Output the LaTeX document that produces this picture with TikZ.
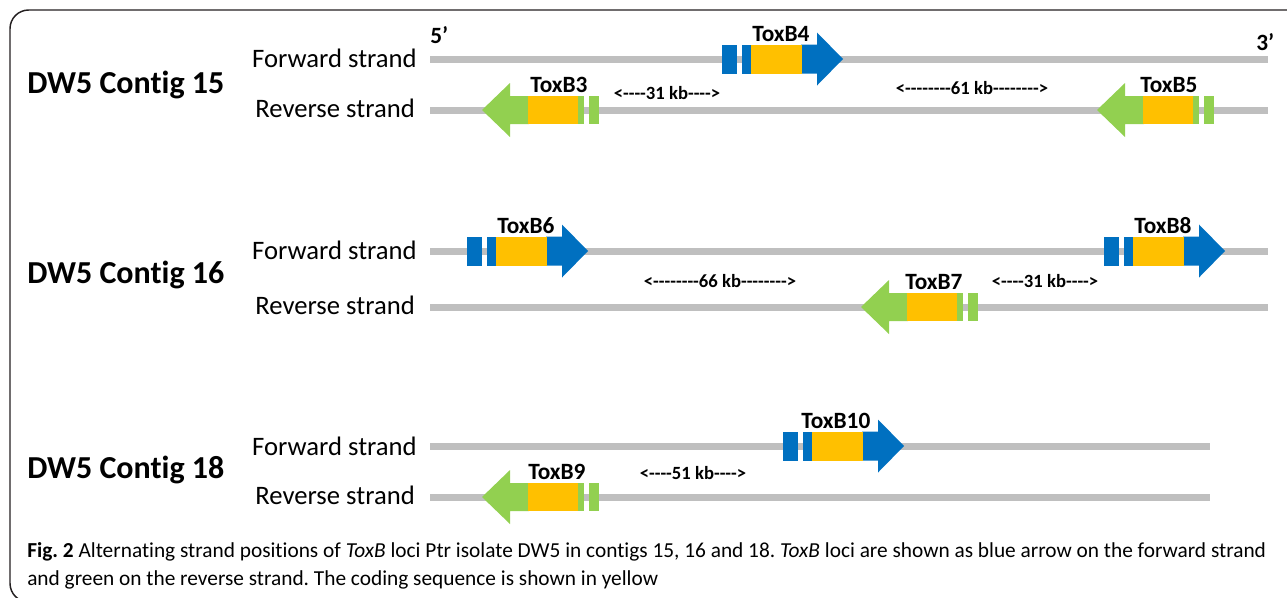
\documentclass[tikz,border=0pt]{standalone}
\usepackage{fontspec}
\setmainfont[Ligatures=NoCommon]{Carlito}
\newfontfamily\capfont[Ligatures=NoCommon]{Carlito}
\definecolor{geneblue}{HTML}{0070C0}
\definecolor{geneyellow}{HTML}{FFC000}
\definecolor{genegreen}{HTML}{92D050}
\definecolor{strandgray}{HTML}{BFBFBF}
\definecolor{framec}{HTML}{231F20}
\newcommand{\hy}{-\kern0pt}
\frenchspacing
\tikzset{
  strandline/.style={draw=strandgray,line width=5.25pt},
  strandlabel/.style={anchor=base east,inner sep=0pt,font=\fontsize{20}{23}\selectfont},
  contiglabel/.style={anchor=base west,inner sep=0pt,font=\bfseries\fontsize{24}{28}\selectfont},
  genelabel/.style={anchor=base west,inner sep=0pt,font=\bfseries\fontsize{17.5}{20}\selectfont},
  endlabel/.style={anchor=base west,inner sep=0pt,font=\bfseries\fontsize{17.5}{20}\selectfont},
  distlabel/.style={inner sep=0pt,font=\bfseries\fontsize{14}{16}\selectfont},
  captext/.style={anchor=base west,inner sep=0pt,font=\capfont\frenchspacing\fontsize{16}{19}\selectfont},
}
% forward gene: #1 name, #2 yellow start x, #3 strand y, #4 label, #5 label x
\newcommand{\fwdgene}[5]{%
  \fill[geneblue] (#2-29,#3-14.5) rectangle (#2-14,#3+14.5);
  \fill[geneblue] (#2-9,#3-14.5) rectangle (#2,#3+14.5);
  \fill[geneblue] (#2+50,#3-14.5) -- (#2+66,#3-14.5) -- (#2+66,#3-26.5) -- (#2+92,#3)
     -- (#2+66,#3+26.5) -- (#2+66,#3+14.5) -- (#2+50,#3+14.5) -- cycle;
  \fill[geneyellow] (#2,#3-14.5) rectangle (#2+51,#3+14.5);
  \node[genelabel] (#1) at (#5,#3-18) {#4};
}
% reverse gene: #1 name, #2 yellow start x, #3 strand y, #4 label, #5 label x
\newcommand{\revgene}[5]{%
  \fill[genegreen] (#2+1,#3-14) -- (#2-18,#3-14) -- (#2-18,#3-27) -- (#2-46,#3)
     -- (#2-18,#3+27) -- (#2-18,#3+14) -- (#2+1,#3+14) -- cycle;
  \fill[geneyellow] (#2,#3-14) rectangle (#2+50,#3+14);
  \fill[genegreen] (#2+50,#3-14) rectangle (#2+56,#3+14);
  \fill[genegreen] (#2+61,#3-14) rectangle (#2+71,#3+14);
  \node[genelabel] (#1) at (#5,#3-18) {#4};
}
\begin{document}
\begin{tikzpicture}[x=0.75pt,y=-0.75pt]
\useasboundingbox (0,0) rectangle (1287,597);
\clip (0,0) rectangle (1287,597);
\draw[framec,line width=1.1pt,rounded corners=14pt] (10,10) rectangle (1330,602);

% ---------- Contig 15 ----------
\node[contiglabel] (c15) at (27,93) {DW5 Contig 15};
\node[strandlabel] (f15) at (417,67) {Forward strand};
\node[strandlabel] (r15) at (415,117) {Reverse strand};
\draw[strandline] (430,59) -- (1268,59);
\draw[strandline] (430,110) -- (1268,110);
\node[endlabel] (five) at (430,43) {5’};
\node[endlabel] (three) at (1256,50) {3’};
\fwdgene{tb4}{751}{59}{ToxB4}{752}
\revgene{tb3}{528}{110}{ToxB3}{530}
\revgene{tb5}{1143}{110}{ToxB5}{1140}
\node[distlabel] (d1531) at (667,93) {<\hy\hy\hy\hy31 kb\hy\hy\hy\hy>};
\node[distlabel] (d1561) at (972,88) {<\hy\hy\hy\hy\hy\hy\hy\hy61 kb\hy\hy\hy\hy\hy\hy\hy\hy>};

% ---------- Contig 16 ----------
\node[contiglabel] (c16) at (27,283) {DW5 Contig 16};
\node[strandlabel] (f16) at (417,259) {Forward strand};
\node[strandlabel] (r16) at (415,314) {Reverse strand};
\draw[strandline] (430,251) -- (1268,251);
\draw[strandline] (430,307) -- (1268,307);
\fwdgene{tb6}{496}{251}{ToxB6}{497}
\fwdgene{tb8}{1133}{251}{ToxB8}{1134}
\revgene{tb7}{907}{307}{ToxB7}{905}
\node[distlabel] (d1666) at (720,281) {<\hy\hy\hy\hy\hy\hy\hy\hy66 kb\hy\hy\hy\hy\hy\hy\hy\hy>};
\node[distlabel] (d1631) at (1045,281) {<\hy\hy\hy\hy31 kb\hy\hy\hy\hy>};

% ---------- Contig 18 ----------
\node[contiglabel] (c18) at (27,478) {DW5 Contig 18};
\node[strandlabel] (f18) at (417,455) {Forward strand};
\node[strandlabel] (r18) at (415,504) {Reverse strand};
\draw[strandline] (430,446) -- (1210,446);
\draw[strandline] (430,497) -- (1210,497);
\fwdgene{tb10}{812}{446}{ToxB10}{801}
\revgene{tb9}{528}{497}{ToxB9}{528}
\node[distlabel] (d1851) at (693,473) {<\hy\hy\hy\hy51 kb\hy\hy\hy\hy>};

% ---------- Caption ----------
\node[captext] (cap1) at (27,557) {\textbf{Fig. 2} Alternating strand positions of \textit{ToxB} loci Ptr isolate DW5 in contigs 15, 16 and 18. \textit{ToxB} loci are shown as blue arrow on the forward strand};
\node[captext] (cap2) at (27,585) {and green on the reverse strand. The coding sequence is shown in yellow};
\end{tikzpicture}
\end{document}
